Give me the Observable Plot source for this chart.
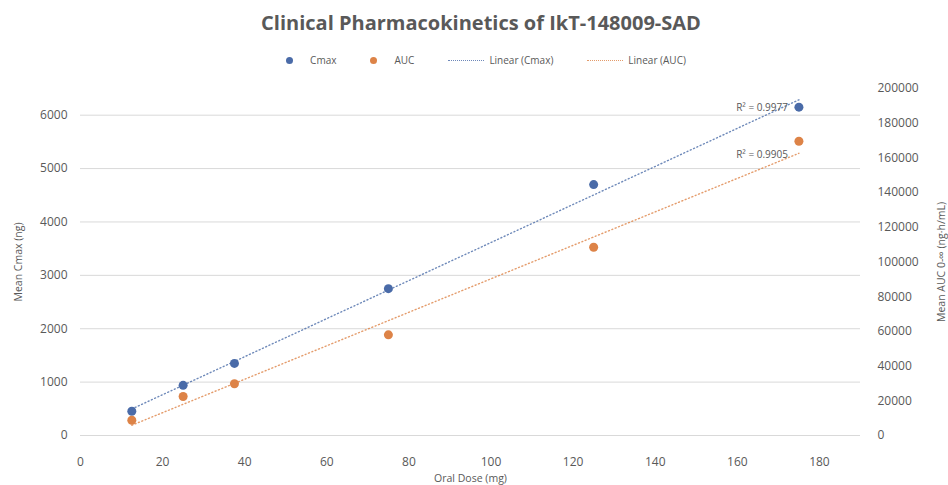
<!DOCTYPE html>
<html>
<head>
<meta charset="utf-8">
<script src="https://cdn.jsdelivr.net/npm/d3@7"></script>
<script src="https://cdn.jsdelivr.net/npm/@observablehq/plot@0.6"></script>
<style>
  body { margin: 0; background: #fff; font-family: "Open Sans", sans-serif; }
  #wrap { width: 948px; height: 485px; position: relative; overflow: hidden; }
  #title { height: 45px; line-height: 46px; text-align: center; font-size: 20px; font-weight: 700; color: #595959; padding-left: 14px; }
  #legend { height: 30px; display: flex; justify-content: center; align-items: center; font-size: 10px; color: #595959; padding-left: 24px; }
  .li { display: flex; align-items: center; margin: 0 17px; }
  .dot { width: 7px; height: 7px; border-radius: 50%; margin-right: 17px; }
  .dash { width: 36px; height: 0; border-top: 1.5px dotted; margin-right: 5px; }
</style>
</head>
<body>
<div id="wrap">
  <div id="title"></div>
  <div id="legend"></div>
  <div id="chart"></div>
</div>
<script>
const titleText = "Clinical Pharmacokinetics of IkT-148009-SAD";
const doses = [12.5, 25, 37.5, 75, 125, 175];
const cmax = [455, 940, 1350, 2750, 4700, 6150];
const auc = [8800, 22500, 29800, 58000, 108500, 169600];
const seriesNames = ["Cmax", "AUC", "Linear (Cmax)", "Linear (AUC)"];
const colors = ["#4a6ba8", "#dd8347"];
const r2Labels = ["R² = 0.9977", "R² = 0.9905"];
const xTicks = [0, 20, 40, 60, 80, 100, 120, 140, 160, 180];
const leftTicks = [0, 1000, 2000, 3000, 4000, 5000, 6000];
const rightTicks = [0, 20000, 40000, 60000, 80000, 100000, 120000, 140000, 160000, 180000, 200000];
const xLabel = "Oral Dose (mg)";
const leftLabel = "Mean Cmax (ng)";
const rightLabel = "Mean AUC 0-\u221E (ng\u00B7h/mL)";

const leftMax = 6500, rightMax = 200000;
const k = leftMax / rightMax;

document.getElementById("title").textContent = titleText;
const legend = document.getElementById("legend");
seriesNames.forEach((n, i) => {
  const el = document.createElement("div");
  el.className = "li";
  const sw = document.createElement("span");
  if (i < 2) { sw.className = "dot"; sw.style.background = colors[i]; }
  else { sw.className = "dash"; sw.style.borderColor = colors[i - 2]; sw.style.opacity = 0.8; }
  el.appendChild(sw);
  const t = document.createElement("span");
  t.textContent = n;
  el.appendChild(t);
  legend.appendChild(el);
});

const cData = doses.map((d, i) => ({dose: d, v: cmax[i]}));
const aData = doses.map((d, i) => ({dose: d, v: auc[i] * k}));
const lastC = [cData[cData.length - 1]];
const lastA = [aData[aData.length - 1]];

const chart = Plot.plot({
  width: 948,
  height: 410,
  marginTop: 13,
  marginLeft: 80,
  marginRight: 88,
  marginBottom: 50,
  style: {fontFamily: "Open Sans, sans-serif", fontSize: "12px", color: "#595959"},
  x: {domain: [0, 190]},
  y: {domain: [0, leftMax]},
  marks: [
    Plot.gridY(leftTicks, {stroke: "#d9d9d9", strokeOpacity: 1}),
    Plot.axisX({ticks: xTicks, tickSize: 0, tickPadding: 22, label: null, fontSize: 12}),
    Plot.axisX({ticks: [], label: xLabel, labelAnchor: "center", labelArrow: "none", labelOffset: 46, fontSize: 10.5}),
    Plot.axisY({ticks: leftTicks, tickFormat: d => String(d), tickSize: 0, tickPadding: 13, label: null, fontSize: 12}),
    Plot.axisY({ticks: [], label: leftLabel, labelAnchor: "center", labelArrow: "none", labelOffset: 66, fontSize: 10.5}),
    Plot.axisY({anchor: "right", ticks: rightTicks.map(v => v * k), tickFormat: d => String(Math.round(d / k)), tickSize: 0, tickPadding: 17, label: null, fontSize: 12}),
    Plot.axisY({anchor: "right", ticks: [], label: rightLabel, labelAnchor: "center", labelArrow: "none", labelOffset: 84, fontSize: 10.5}),
    Plot.linearRegressionY(cData, {x: "dose", y: "v", stroke: colors[0], ci: 0, strokeWidth: 1.4, strokeDasharray: "1,2.6", strokeOpacity: 0.8}),
    Plot.linearRegressionY(aData, {x: "dose", y: "v", stroke: colors[1], ci: 0, strokeWidth: 1.4, strokeDasharray: "1,2.6", strokeOpacity: 0.8}),
    Plot.dot(cData, {x: "dose", y: "v", fill: colors[0], r: 4.5}),
    Plot.dot(aData, {x: "dose", y: "v", fill: colors[1], r: 4.5}),
    Plot.text(lastC, {x: "dose", y: "v", text: () => r2Labels[0], textAnchor: "end", dx: -11, dy: 1, fontSize: 10, fill: "#595959"}),
    Plot.text(lastA, {x: "dose", y: "v", text: () => r2Labels[1], textAnchor: "end", dx: -11, dy: 14, fontSize: 10, fill: "#595959"})
  ]
});
document.getElementById("chart").appendChild(chart);
</script>
</body>
</html>
